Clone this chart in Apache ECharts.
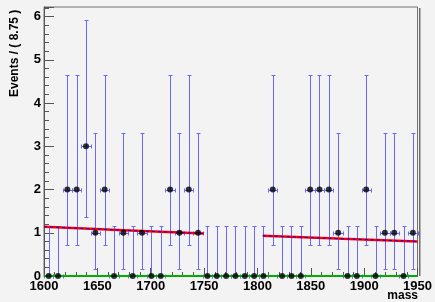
<!DOCTYPE html>
<html>
<head>
<meta charset="utf-8">
<script src="https://cdn.jsdelivr.net/npm/echarts@6/dist/echarts.min.js"></script>
<style>
html, body { margin: 0; padding: 0; background: #f3f3f3; }
#content { width: 435px; height: 302px; }
</style>
</head>
<body>
<div id="content"></div>
<script>
// binned data: 40 bins of 8.75 from 1600 to 1950
var binStart = 1600;
var binWidth = 8.75;
var counts = [0,0,2,2,3,1,2,0,1,0, 1,0,0,2,1,2,1,0,0,0, 0,0,0,0,2,0,0,0,2,2, 2,1,0,0,2,0,1,1,0,1];
// asymmetric error bar ends, per count
var errUpEnd = [1.15, 3.30, 4.64, 5.92];
var errDownEnd = [0, 0.17, 0.71, 1.37];
// fit curve (two ranges) and baseline
var fitA = [[1600, 1.14], [1675, 1.06], [1750, 0.98]];
var fitB = [[1805, 0.93], [1880, 0.86], [1950, 0.80]];
var baseLine = [[1600, 0], [1950, 0]];
var xTicks = [1600, 1650, 1700, 1750, 1800, 1850, 1900, 1950];

var points = [];
var bars = [];
for (var i = 0; i < counts.length; i++) {
    var xc = binStart + binWidth * (i + 0.5);
    points.push([xc, counts[i]]);
    bars.push([xc, counts[i], errDownEnd[counts[i]], errUpEnd[counts[i]]]);
}

var barColor = 'rgb(105,105,255)';
var font = 'Liberation Sans, Arial, sans-serif';

// snap to pixel centres so the 1px bars stay sharp
function px(v) { return Math.round(v) + 0.5; }

function renderBar(params, api) {
    var x = api.value(0), y = api.value(1), lo = api.value(2), hi = api.value(3);
    var top = api.coord([x, hi]);
    var bot = api.coord([x, lo]);
    var l = api.coord([x - binWidth / 2, y]);
    var r = api.coord([x + binWidth / 2, y]);
    var cx = px(top[0]), ty = px(top[1]), by = px(bot[1]);
    var hy = px(l[1]), lx = px(l[0]), rx = px(r[0]);
    var st = { stroke: barColor, lineWidth: 1 };
    return {
        type: 'group',
        children: [
            { type: 'line', shape: { x1: cx, y1: ty, x2: cx, y2: by }, style: st },
            { type: 'line', shape: { x1: cx - 2, y1: ty, x2: cx + 2, y2: ty }, style: st },
            { type: 'line', shape: { x1: cx - 2, y1: by, x2: cx + 2, y2: by }, style: st },
            { type: 'line', shape: { x1: lx, y1: hy, x2: rx, y2: hy }, style: st },
            { type: 'line', shape: { x1: lx, y1: hy - 2, x2: lx, y2: hy + 2 }, style: st },
            { type: 'line', shape: { x1: rx, y1: hy - 2, x2: rx, y2: hy + 2 }, style: st }
        ]
    };
}

var myChart = echarts.init(document.getElementById('content'));
myChart.setOption({
    backgroundColor: '#f3f3f3',
    animation: false,
    grid: {
        left: 44, right: 16, top: 7, bottom: 26,
        show: true, borderColor: '#707070', borderWidth: 1, backgroundColor: '#f3f3f3'
    },
    xAxis: {
        type: 'value',
        min: 1600, max: 1950, interval: 50,
        axisLine: { show: true, lineStyle: { color: '#555' } },
        axisTick: { inside: true, length: 8, lineStyle: { color: '#555' } },
        minorTick: { show: true, splitNumber: 5, length: 4, lineStyle: { color: '#555' } },
        splitLine: { show: false },
        axisLabel: {
            color: '#000', fontFamily: font, fontWeight: 'bold', fontSize: 13, margin: 4,
            showMinLabel: true, showMaxLabel: true,
            formatter: function (v) { return xTicks.indexOf(v) >= 0 ? String(v) : ''; }
        }
    },
    yAxis: {
        type: 'value',
        min: 0, max: 6.22, interval: 1,
        axisLine: { show: true, lineStyle: { color: '#555' } },
        axisTick: { inside: true, length: 10, lineStyle: { color: '#555' } },
        minorTick: { show: true, splitNumber: 5, length: 5, lineStyle: { color: '#555' } },
        splitLine: { show: false },
        axisLabel: {
            color: '#000', fontFamily: font, fontWeight: 'bold', fontSize: 13, margin: 3,
            formatter: function (v) { return Number.isInteger(v) ? String(v) : ''; }
        }
    },
    graphic: [
        {
            type: 'text', x: 15, y: 97, rotation: Math.PI / 2,
            style: { text: 'Events / ( 8.75 )', font: 'bold 12px ' + font, fill: '#000',
                     textAlign: 'left', textVerticalAlign: 'middle' }
        },
        {
            type: 'text', x: 418, y: 296,
            style: { text: 'mass', font: 'bold 12px ' + font, fill: '#000',
                     textAlign: 'right', textVerticalAlign: 'middle' }
        },
        {
            type: 'rect', shape: { x: 419, y: 8, width: 1.5, height: 268 },
            style: { fill: '#707070' }
        }
    ],
    series: [
        {
            type: 'custom', renderItem: renderBar, data: bars, z: 2, clip: false
        },
        {
            type: 'line', data: fitA, showSymbol: false, z: 3,
            lineStyle: { color: '#ff0000', width: 2.5 }
        },
        {
            type: 'line', data: fitA, showSymbol: false, z: 4,
            lineStyle: { color: '#0000ff', width: 1, type: [3, 3] }
        },
        {
            type: 'line', data: fitB, showSymbol: false, z: 3,
            lineStyle: { color: '#ff0000', width: 2.5 }
        },
        {
            type: 'line', data: fitB, showSymbol: false, z: 4,
            lineStyle: { color: '#0000ff', width: 1, type: [3, 3] }
        },
        {
            type: 'line', data: baseLine, showSymbol: false, z: 5,
            lineStyle: { color: '#00b000', width: 2 }
        },
        {
            type: 'scatter', data: points, symbol: 'circle', symbolSize: 6, z: 6,
            itemStyle: { color: '#000' }
        }
    ]
});
</script>
</body>
</html>
